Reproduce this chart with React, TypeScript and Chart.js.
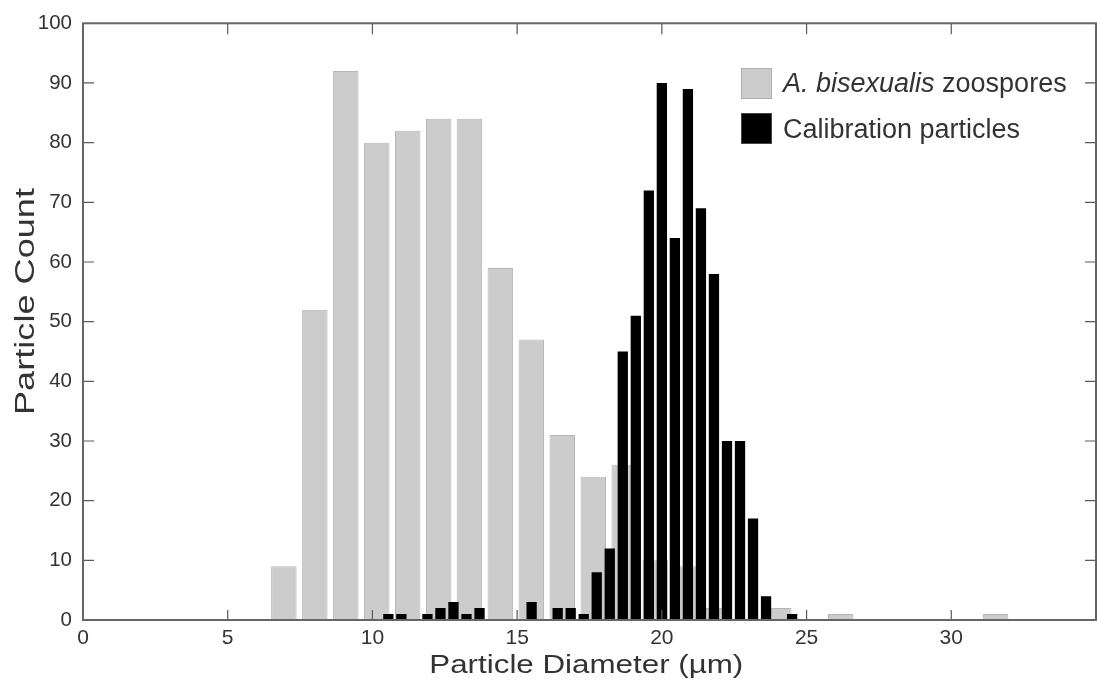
import React, { useEffect, useRef } from 'react';
import { Chart, registerables } from 'chart.js';

Chart.register(...registerables);

// ---- data ----
const zoosporeDiameters = [
  6.94, 8.01, 9.08, 10.15, 11.22, 12.29, 13.35, 14.42, 15.49, 16.56, 17.63, 18.7,
  19.77, 20.84, 21.91, 22.98, 24.04, 25.11, 26.18, 27.25, 28.32, 29.39, 30.46, 31.53,
];
const zoosporeCounts = [
  9, 52, 92, 80, 82, 84, 84, 59, 47, 31, 24, 26,
  10, 9, 2, 0, 2, 0, 1, 0, 0, 0, 0, 1,
];
const calibrationDiameters = [
  10.55, 11.0, 11.45, 11.9, 12.35, 12.8, 13.25, 13.7, 14.15, 14.6, 15.05, 15.5,
  15.95, 16.4, 16.85, 17.3, 17.75, 18.2, 18.65, 19.1, 19.55, 20.0, 20.45, 20.9,
  21.35, 21.8, 22.25, 22.7, 23.15, 23.6, 24.05, 24.5,
];
const calibrationCounts = [
  1, 1, 0, 1, 2, 3, 1, 2, 0, 0, 0, 3,
  0, 2, 2, 1, 8, 12, 45, 51, 72, 90, 64, 89,
  69, 58, 30, 30, 17, 4, 0, 1,
];
const xTickValues = [0, 5, 10, 15, 20, 25, 30];
const yTickValues = [0, 10, 20, 30, 40, 50, 60, 70, 80, 90, 100];
const legendItalic = 'A. bisexualis';
const legendRest = ' zoospores';
const legendSecond = 'Calibration particles';
const xTitle = 'Particle Diameter (\u00b5m)';
const yTitle = 'Particle Count';

const FONT = '"Liberation Sans", Arial, Helvetica, sans-serif';
const TEXT = '#333333';

const toPoints = (xs: number[], ys: number[]) =>
  xs.map((x, i) => ({ x, y: ys[i] })).filter((p) => p.y > 0);

const decorPlugin = {
  id: 'decor',
  afterDatasetsDraw(chart: any) {
    const { ctx, chartArea: a, scales } = chart;
    const xs = scales.x;
    const ys = scales.y;
    ctx.save();
    // tick marks (inward)
    ctx.strokeStyle = '#5a5a5a';
    ctx.lineWidth = 1.2;
    ctx.beginPath();
    xTickValues.forEach((v) => {
      if (v <= xs.min || v >= xs.max) return;
      const px = xs.getPixelForValue(v);
      ctx.moveTo(px, a.bottom);
      ctx.lineTo(px, a.bottom - 10);
      ctx.moveTo(px, a.top);
      ctx.lineTo(px, a.top + 11);
    });
    yTickValues.forEach((v) => {
      if (v <= ys.min || v >= ys.max) return;
      const py = ys.getPixelForValue(v);
      ctx.moveTo(a.left, py);
      ctx.lineTo(a.left + 11, py);
      ctx.moveTo(a.right, py);
      ctx.lineTo(a.right - 11, py);
    });
    ctx.stroke();
    // frame
    ctx.strokeStyle = '#666666';
    ctx.lineWidth = 2;
    ctx.strokeRect(a.left, a.top, a.right - a.left, a.bottom - a.top);

    // legend
    const sq = 31;
    const lx = 741;
    const rows = [
      { y: 68, fill: '#cccccc', stroke: '#b0b0b0' },
      { y: 113, fill: '#000000', stroke: '#444444' },
    ];
    rows.forEach((r) => {
      ctx.fillStyle = r.fill;
      ctx.fillRect(lx, r.y, sq, sq);
      ctx.strokeStyle = r.stroke;
      ctx.lineWidth = 1;
      ctx.strokeRect(lx + 0.5, r.y + 0.5, sq - 1, sq - 1);
    });
    ctx.fillStyle = TEXT;
    ctx.textBaseline = 'alphabetic';
    ctx.textAlign = 'left';
    ctx.font = `italic 27px ${FONT}`;
    ctx.fillText(legendItalic, 783, 92);
    const w = ctx.measureText(legendItalic).width;
    ctx.font = `27px ${FONT}`;
    ctx.fillText(legendRest, 783 + w, 92);
    ctx.fillText(legendSecond, 783, 137.5);

    // axis titles (horizontally stretched as in the original)
    ctx.font = `26.5px ${FONT}`;
    const tw = ctx.measureText(xTitle).width;
    const sx = 314 / tw;
    ctx.save();
    ctx.translate(586.3, 673);
    ctx.scale(sx, 1);
    ctx.textAlign = 'center';
    ctx.fillText(xTitle, 0, 0);
    ctx.restore();

    ctx.font = `27px ${FONT}`;
    const th = ctx.measureText(yTitle).width;
    const sy = 227 / th;
    ctx.save();
    ctx.translate(34, 301.5);
    ctx.rotate(-Math.PI / 2);
    ctx.scale(sy, 1);
    ctx.textAlign = 'center';
    ctx.fillText(yTitle, 0, 0);
    ctx.restore();

    ctx.restore();
  },
};

export default function App() {
  const ref = useRef<HTMLCanvasElement>(null);
  useEffect(() => {
    if (!ref.current) return;
    const chart = new Chart(ref.current, {
      type: 'bar',
      data: {
        datasets: [
          {
            label: legendItalic + legendRest,
            data: toPoints(zoosporeDiameters, zoosporeCounts),
            xAxisID: 'x',
            backgroundColor: '#cccccc',
            borderColor: '#b5b5b5',
            borderWidth: 1,
            grouped: false,
            categoryPercentage: 1,
            barPercentage: 0.83,
            order: 2,
          } as any,
          {
            label: legendSecond,
            data: toPoints(calibrationDiameters, calibrationCounts),
            xAxisID: 'x2',
            backgroundColor: '#000000',
            borderColor: '#222222',
            borderWidth: 0,
            grouped: false,
            categoryPercentage: 1,
            barPercentage: 0.79,
            order: 1,
          } as any,
        ],
      },
      options: {
        responsive: false,
        animation: false,
        layout: { padding: { top: 20, right: 1, left: 0, bottom: 0 } },
        plugins: { legend: { display: false }, tooltip: { enabled: false } },
        scales: {
          x: {
            type: 'linear',
            min: 0,
            max: 35,
            offset: false,
            grid: { display: false, drawTicks: false },
            border: { display: false },
            afterBuildTicks: (s: any) => {
              s.ticks = xTickValues.map((v) => ({ value: v }));
            },
            afterFit: (s: any) => {
              s.height = 68;
            },
            ticks: {
              font: { family: FONT, size: 21 },
              color: TEXT,
              padding: 6,
              maxRotation: 0,
              autoSkip: false,
            },
          },
          x2: {
            type: 'linear',
            min: 0,
            max: 35,
            offset: false,
            display: false,
          },
          y: {
            type: 'linear',
            min: 0,
            max: 100,
            grid: { display: false, drawTicks: false },
            border: { display: false },
            afterBuildTicks: (s: any) => {
              s.ticks = yTickValues.map((v) => ({ value: v }));
            },
            afterFit: (s: any) => {
              s.width = 83;
            },
            ticks: {
              font: { family: FONT, size: 20.5 },
              color: TEXT,
              padding: 11,
            },
          },
        } as any,
      },
      plugins: [decorPlugin],
    });
    return () => chart.destroy();
  }, []);
  return (
    <div style={{ position: 'absolute', left: 0, top: 0, width: 1097, height: 688, background: '#fff' }}>
      <canvas ref={ref} width={1097} height={688} style={{ display: 'block' }} />
    </div>
  );
}
